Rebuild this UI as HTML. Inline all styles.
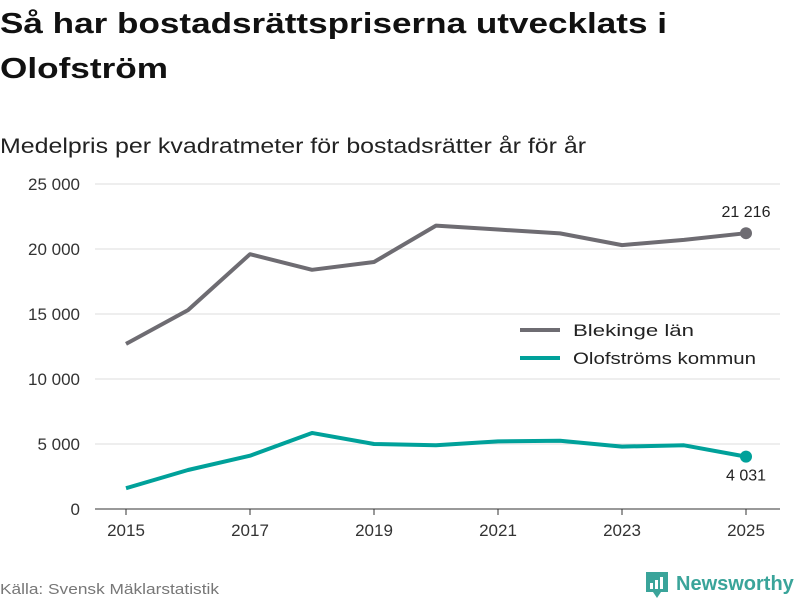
<!DOCTYPE html>
<html><head><meta charset="utf-8"><style>
body{margin:0;background:#fff;width:800px;height:600px;overflow:hidden;font-family:"Liberation Sans",sans-serif;}
</style></head><body>
<svg width="800" height="600" xmlns="http://www.w3.org/2000/svg" font-family="Liberation Sans, sans-serif">
<text x="0" y="33" font-size="29" font-weight="bold" fill="#111" textLength="667" lengthAdjust="spacingAndGlyphs">Så har bostadsrättspriserna utvecklats i</text>
<text x="0" y="78" font-size="29" font-weight="bold" fill="#111" textLength="168" lengthAdjust="spacingAndGlyphs">Olofström</text>
<text x="0" y="153" font-size="21" fill="#222" textLength="586" lengthAdjust="spacingAndGlyphs">Medelpris per kvadratmeter för bostadsrätter år för år</text>
<g id="grid"></g><g id="series"></g>
<g>
<line x1="520" y1="330" x2="560" y2="330" stroke="#6e6c72" stroke-width="4"/>
<text x="573" y="336" font-size="17" fill="#222" textLength="121" lengthAdjust="spacingAndGlyphs">Blekinge län</text>
<line x1="520" y1="358" x2="560" y2="358" stroke="#00a19a" stroke-width="4"/>
<text x="573" y="364" font-size="17" fill="#222" textLength="183" lengthAdjust="spacingAndGlyphs">Olofströms kommun</text>
</g>
<text x="0" y="594" font-size="15" fill="#777" textLength="219" lengthAdjust="spacingAndGlyphs">Källa: Svensk Mäklarstatistik</text>
<g>
<path d="M646 572 h22 v20 h-7 l-4 6 l-4 -6 h-7 z" fill="#3aa49a"/>
<rect x="650" y="583" width="3" height="6" fill="#fff"/><rect x="655" y="580" width="3" height="9" fill="#fff"/><rect x="660" y="577" width="3" height="12" fill="#fff"/>
<text x="676" y="590" font-size="20" font-weight="bold" fill="#3aa49a">Newsworthy</text>
</g>
</svg>
<script>
const years=[2015,2016,2017,2018,2019,2020,2021,2022,2023,2024,2025];
const blekinge=[12700,15300,19600,18400,19000,21800,21500,21200,20300,20700,21216];
const olofstrom=[1600,3000,4100,5850,5000,4900,5200,5250,4800,4900,4031];
const yTicks=[0,5000,10000,15000,20000,25000];
const xTicks=[2015,2017,2019,2021,2023,2025];
const NS="http://www.w3.org/2000/svg";
const xs=y=>126+(y-2015)*62;
const ys=v=>509-v*0.013;
const fmt=v=>v.toString().replace(/\B(?=(\d{3})+(?!\d))/g," ");
const g=document.getElementById('grid'),s=document.getElementById('series');
function mk(tag,attrs,parent,text){const e=document.createElementNS(NS,tag);for(const k in attrs)e.setAttribute(k,attrs[k]);if(text!==undefined)e.textContent=text;parent.appendChild(e);return e;}
yTicks.forEach(v=>{
 const l=mk('line',{x1:95,x2:780,y1:ys(v),y2:ys(v),stroke:v===0?'#333':'#ddd','stroke-width':1},g);
 
 
 const t=mk('text',{x:80,y:ys(v)+6,'font-size':17,fill:'#333','text-anchor':'end'},g,fmt(v));
 
 
});
xTicks.forEach(y=>{
 const l=mk('line',{x1:xs(y),x2:xs(y),y1:509,y2:515,stroke:'#333'},g);
 
 
 const t=mk('text',{x:xs(y),y:536,'font-size':17,fill:'#333','text-anchor':'middle'},g,String(y));
 
 
});
function line(vals,color,name,labelDy){
 const p=mk('polyline',{points:vals.map((v,i)=>xs(years[i])+','+ys(v)).join(' '),fill:'none',stroke:color,'stroke-width':4,'stroke-linejoin':'round'},s);
 
 
 const last=vals.length-1;
 const c=mk('circle',{cx:xs(years[last]),cy:ys(vals[last]),r:6,fill:color},s);
 
 
 const t=mk('text',{x:xs(years[last]),y:ys(vals[last])+labelDy,'font-size':16,fill:'#222','text-anchor':'middle'},s,fmt(vals[last]));
 
 
}
line(blekinge,'#6e6c72','blekinge',-16);
line(olofstrom,'#00a19a','olofstrom',24);
</script>
</body></html>
